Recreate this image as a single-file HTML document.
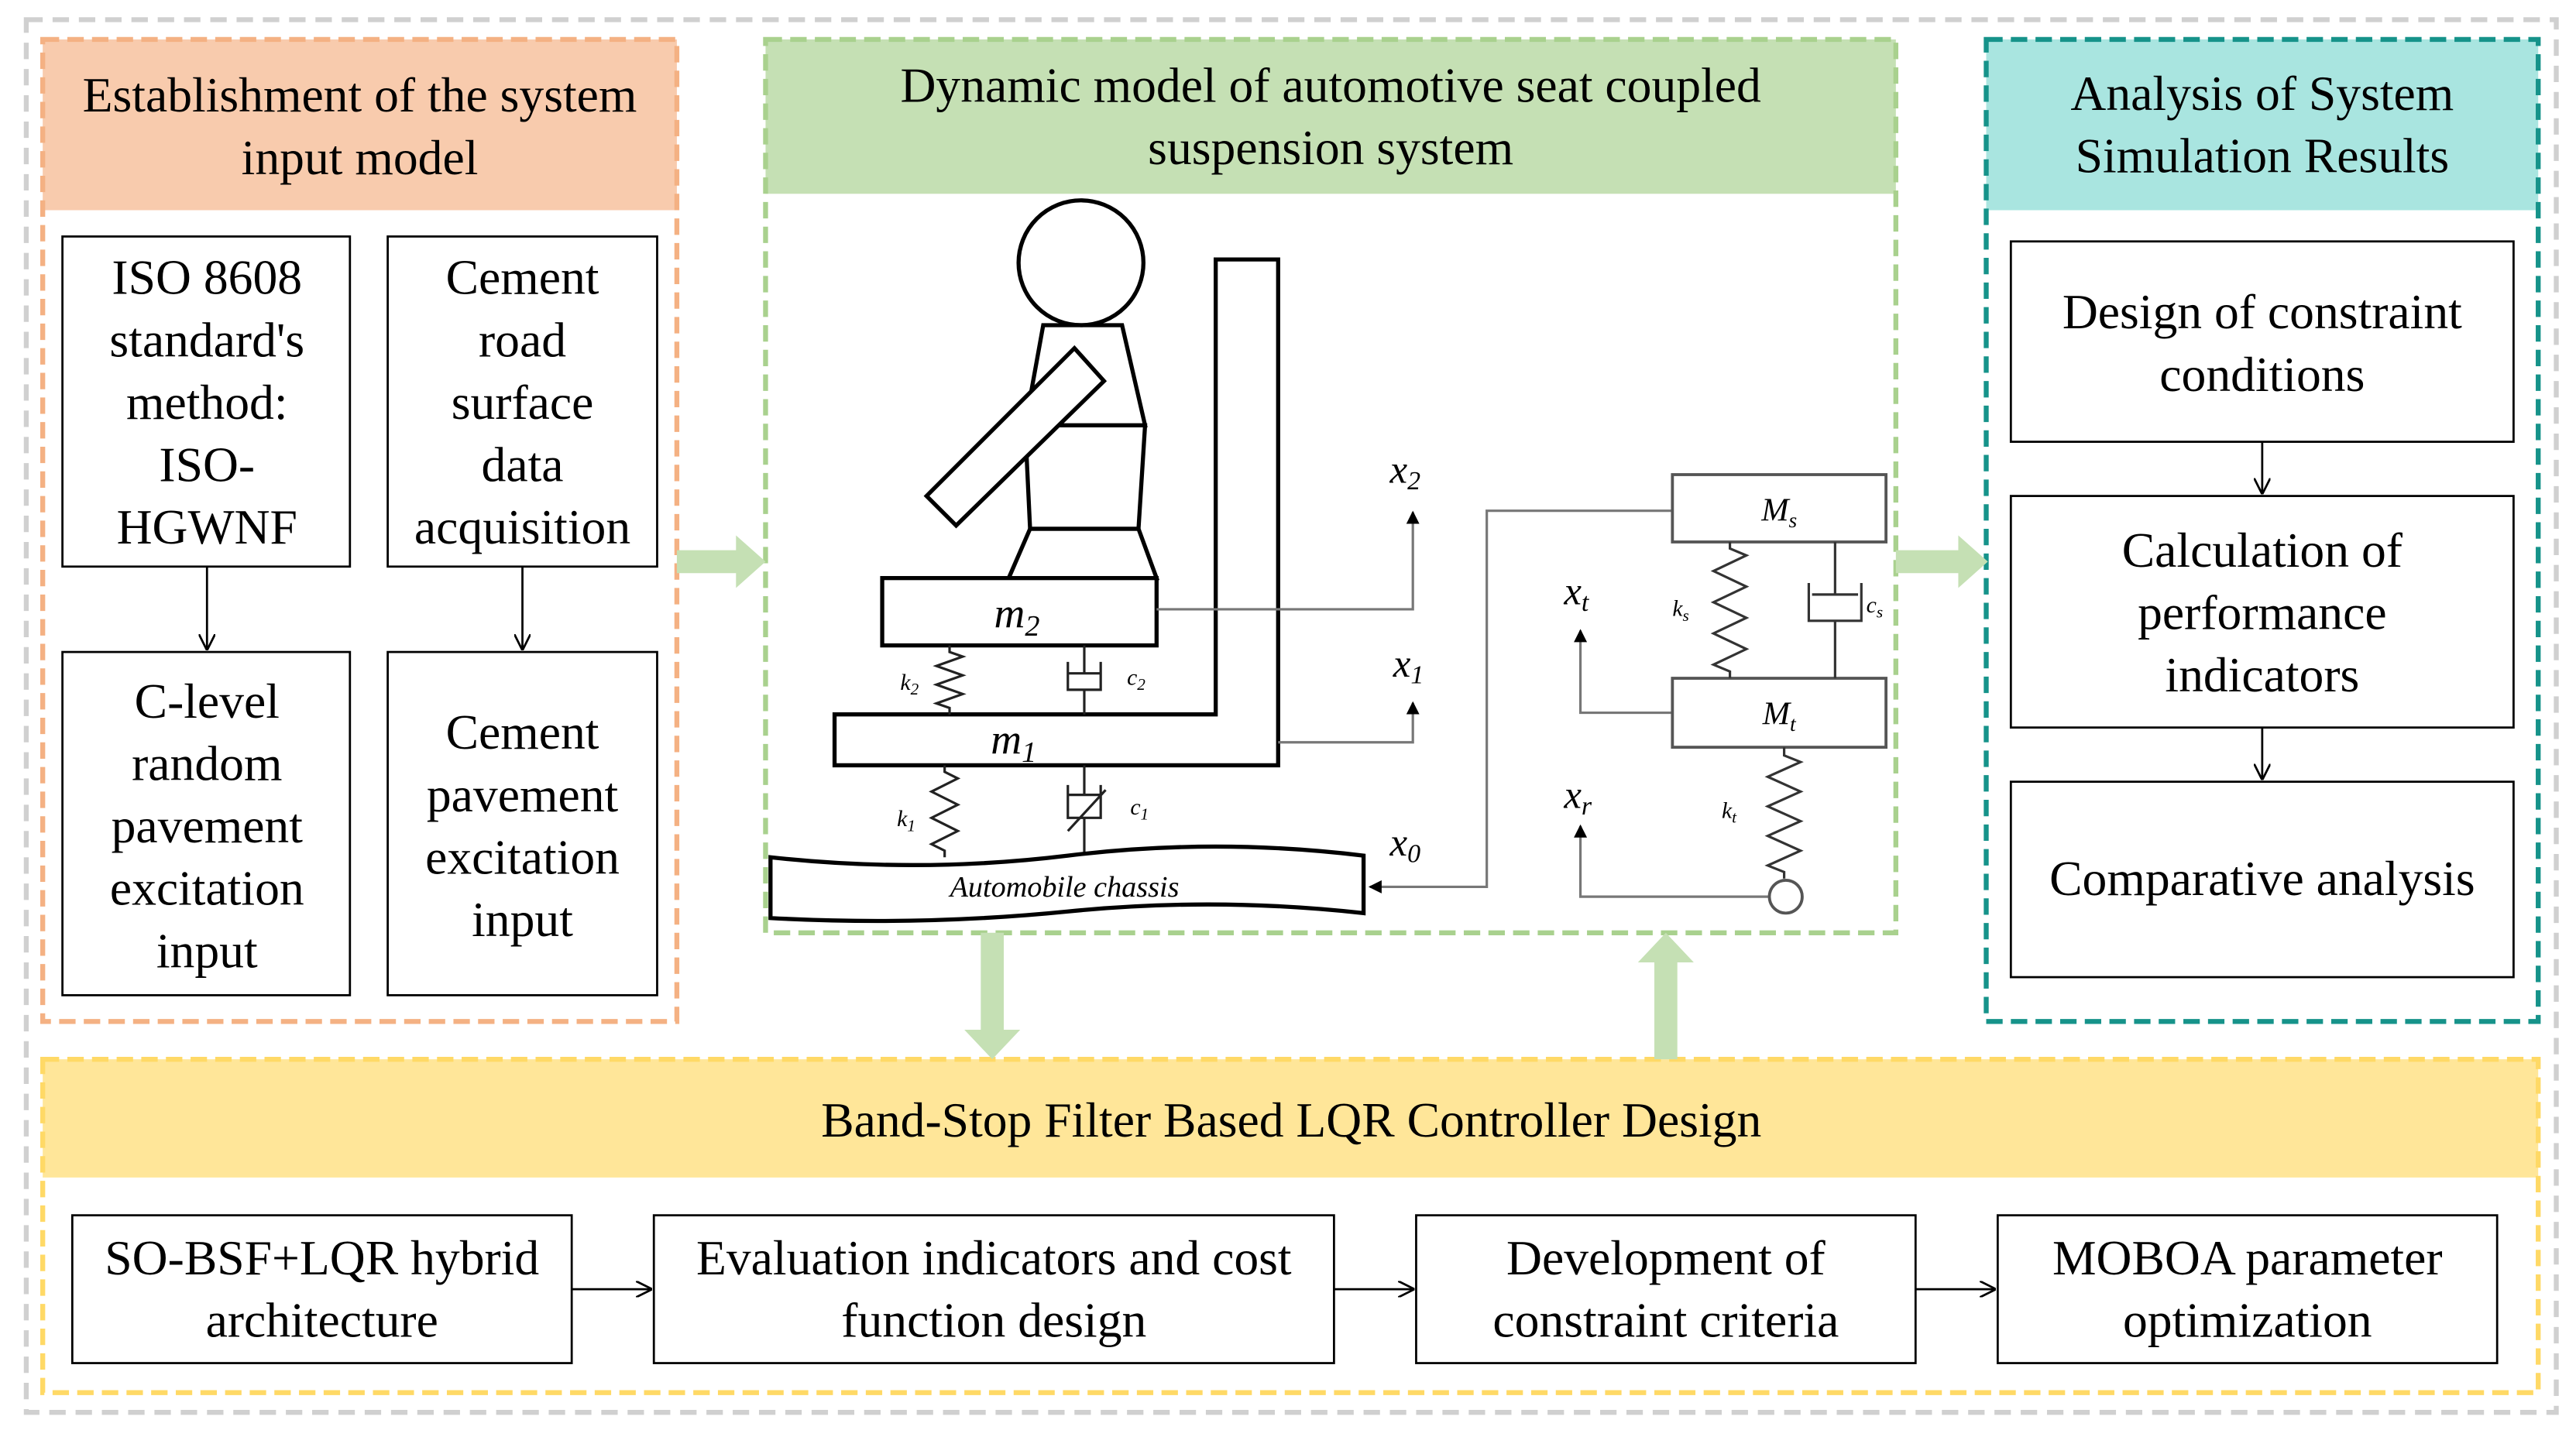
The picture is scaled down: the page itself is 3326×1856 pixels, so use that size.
<!DOCTYPE html>
<html><head><meta charset="utf-8">
<style>
html,body{margin:0;padding:0;background:#fff;}
svg{display:block;font-family:"Liberation Serif","DejaVu Serif",serif;}
svg text{font-family:"Liberation Serif","DejaVu Serif",serif;fill:#000;}
.t{font-size:30px;text-anchor:middle;}
.i{font-style:italic;}
</style></head>
<body>
<svg width="3326" height="1856" viewBox="0 0 1568 875" preserveAspectRatio="none" xmlns="http://www.w3.org/2000/svg" font-family="Liberation Serif, DejaVu Serif, serif">
<defs>
<marker id="ah" markerWidth="8" markerHeight="8" refX="7" refY="4" orient="auto" markerUnits="userSpaceOnUse"><path d="M0,0 L8,4 L0,8 Z" fill="#000"/></marker>
<marker id="as" markerWidth="10" markerHeight="10" refX="9" refY="5" orient="auto" markerUnits="userSpaceOnUse"><path d="M0,0 L10,5 L0,10" fill="none" stroke="#000" stroke-width="1.3"/></marker>
</defs>
<rect width="1568" height="875" fill="#fff"/>
<rect x="16" y="12" width="1540" height="848" fill="none" stroke="#d0d0d0" stroke-width="3" stroke-dasharray="10,6"/>

<rect x="26" y="24" width="386" height="104" fill="#f8cbad"/>
<rect x="26" y="24" width="386" height="598" fill="none" stroke="#f4b183" stroke-width="3" stroke-dasharray="10,5"/>
<text class="t" x="219" y="68">Establishment of the system</text>
<text class="t" x="219" y="106">input model</text>
<g fill="#fff" stroke="#000" stroke-width="1.3">
<rect x="38" y="144" width="175" height="201"/><rect x="236" y="144" width="164" height="201"/>
<rect x="38" y="397" width="175" height="209"/><rect x="236" y="397" width="164" height="209"/>
</g>
<text class="t" x="126" y="179">ISO 8608</text><text class="t" x="126" y="217">standard's</text><text class="t" x="126" y="255">method:</text><text class="t" x="126" y="293">ISO-</text><text class="t" x="126" y="331">HGWNF</text>
<text class="t" x="318" y="179">Cement</text><text class="t" x="318" y="217">road</text><text class="t" x="318" y="255">surface</text><text class="t" x="318" y="293">data</text><text class="t" x="318" y="331">acquisition</text>
<text class="t" x="126" y="437">C-level</text><text class="t" x="126" y="475">random</text><text class="t" x="126" y="513">pavement</text><text class="t" x="126" y="551">excitation</text><text class="t" x="126" y="589">input</text>
<text class="t" x="318" y="456">Cement</text><text class="t" x="318" y="494">pavement</text><text class="t" x="318" y="532">excitation</text><text class="t" x="318" y="570">input</text>
<line x1="126" y1="345" x2="126" y2="395" stroke="#000" stroke-width="1.3" marker-end="url(#as)"/>
<line x1="318" y1="345" x2="318" y2="395" stroke="#000" stroke-width="1.3" marker-end="url(#as)"/>

<rect x="466" y="24" width="688" height="94" fill="#c5e0b4"/>
<rect x="466" y="24" width="688" height="544" fill="none" stroke="#a9d18e" stroke-width="3" stroke-dasharray="10,5"/>
<text class="t" x="810" y="62">Dynamic model of automotive seat coupled</text>
<text class="t" x="810" y="100">suspension system</text>

<rect x="1209" y="24" width="336" height="104" fill="#a9e5e0"/>
<rect x="1209" y="24" width="336" height="598" fill="none" stroke="#16938a" stroke-width="3" stroke-dasharray="10,5"/>
<text class="t" x="1377" y="67">Analysis of System</text>
<text class="t" x="1377" y="105">Simulation Results</text>
<g fill="#fff" stroke="#000" stroke-width="1.3">
<rect x="1224" y="147" width="306" height="122"/><rect x="1224" y="302" width="306" height="141"/><rect x="1224" y="476" width="306" height="119"/>
</g>
<text class="t" x="1377" y="200">Design of constraint</text><text class="t" x="1377" y="238">conditions</text>
<text class="t" x="1377" y="345">Calculation of</text><text class="t" x="1377" y="383">performance</text><text class="t" x="1377" y="421">indicators</text>
<text class="t" x="1377" y="545">Comparative analysis</text>
<line x1="1377" y1="269" x2="1377" y2="300" stroke="#000" stroke-width="1.3" marker-end="url(#as)"/>
<line x1="1377" y1="443" x2="1377" y2="474" stroke="#000" stroke-width="1.3" marker-end="url(#as)"/>

<rect x="26" y="645" width="1519" height="72" fill="#ffe699"/>
<rect x="26" y="645" width="1519" height="203" fill="none" stroke="#ffd966" stroke-width="3" stroke-dasharray="10,5"/>
<text class="t" x="786" y="692">Band-Stop Filter Based LQR Controller Design</text>
<g fill="#fff" stroke="#000" stroke-width="1.3">
<rect x="44" y="740" width="304" height="90"/><rect x="398" y="740" width="414" height="90"/><rect x="862" y="740" width="304" height="90"/><rect x="1216" y="740" width="304" height="90"/>
</g>
<text class="t" x="196" y="776">SO-BSF+LQR hybrid</text><text class="t" x="196" y="814">architecture</text>
<text class="t" x="605" y="776">Evaluation indicators and cost</text><text class="t" x="605" y="814">function design</text>
<text class="t" x="1014" y="776">Development of</text><text class="t" x="1014" y="814">constraint criteria</text>
<text class="t" x="1368" y="776">MOBOA parameter</text><text class="t" x="1368" y="814">optimization</text>
<g stroke="#000" stroke-width="1.3" marker-end="url(#as)">
<line x1="348" y1="785" x2="396" y2="785"/><line x1="812" y1="785" x2="860" y2="785"/><line x1="1166" y1="785" x2="1214" y2="785"/>
</g>

<g fill="#c5e0b4">
<polygon points="412,335 448,335 448,326 466,342 448,358 448,349 412,349"/>
<polygon points="1154,335 1192,335 1192,326 1210,342 1192,358 1192,349 1154,349"/>
<polygon points="597,568 611,568 611,627 621,627 604,645 587,627 597,627"/>
<polygon points="1007,645 1021,645 1021,586 1031,586 1014,568 997,586 1007,586"/>
</g>

<g fill="none" stroke="#000" stroke-width="2.5">
<circle cx="658" cy="160" r="38"/>
<polygon points="635,198 683,198 697,259 624,259"/>
<polygon points="624,259 697,259 693,322 627,322"/>
<polygon points="627,322 693,322 704,352 614,352"/>
<polygon points="564,302 654,212 672,232 582,320" fill="#fff"/>
<polygon points="740,158 778,158 778,466 508,466 508,435 740,435"/>
<rect x="537" y="352" width="167" height="41" fill="#fff"/>
</g>
<text x="619" y="382" class="t i" style="font-size:26px">m<tspan font-size="18" dy="5">2</tspan></text>
<text x="617" y="459" class="t i" style="font-size:26px">m<tspan font-size="18" dy="5">1</tspan></text>
<g fill="none" stroke="#222" stroke-width="1.5">
<path d="M578 393 v4 l8 2.8 l-16 5.7 l16 5.7 l-16 5.7 l16 5.7 l-16 5.7 l8 2.8 v4"/>
<path d="M660 393 v17 M650 410 h20 M650 403 v17 h20 v-17 M660 420 v15"/>
<path d="M575 466 v4 l8 4 l-16 8 l16 8 l-16 8 l16 8 l-16 8 l8 4 v4"/>
<path d="M660 466 v18 M650 484 h20 M650 478 v20 h20 v-20 M660 498 v22 M650 506 L673 481"/>
</g>
<text x="548" y="420" class="i" style="font-size:14px">k<tspan font-size="10" dy="3">2</tspan></text>
<text x="686" y="417" class="i" style="font-size:14px">c<tspan font-size="10" dy="3">2</tspan></text>
<text x="546" y="503" class="i" style="font-size:14px">k<tspan font-size="10" dy="3">1</tspan></text>
<text x="688" y="496" class="i" style="font-size:14px">c<tspan font-size="10" dy="3">1</tspan></text>
<path d="M469 522 Q560 532 650 521 T830 521 L830 556 Q740 546 650 555 T469 559 Z" fill="#fff" stroke="#000" stroke-width="2.5"/>
<text x="648" y="546" class="t i" style="font-size:18px">Automobile chassis</text>
<g fill="none" stroke="#777" stroke-width="1.5">
<path d="M704 371 H860 V312" marker-end="url(#ah)"/>
<path d="M778 452 H860 V428" marker-end="url(#ah)"/>
<path d="M1018 311 H905 V540 H834" marker-end="url(#ah)"/>
<path d="M1018 434 H962 V384" marker-end="url(#ah)"/>
<path d="M1077 546 H962 V503" marker-end="url(#ah)"/>
</g>
<text x="846" y="294" class="i" style="font-size:24px">x<tspan font-size="16" dy="4">2</tspan></text>
<text x="848" y="412" class="i" style="font-size:24px">x<tspan font-size="16" dy="4">1</tspan></text>
<text x="846" y="521" class="i" style="font-size:24px">x<tspan font-size="16" dy="4">0</tspan></text>
<text x="952" y="368" class="i" style="font-size:24px">x<tspan font-size="16" dy="4">t</tspan></text>
<text x="952" y="492" class="i" style="font-size:24px">x<tspan font-size="16" dy="4">r</tspan></text>
<g fill="#fff" stroke="#555" stroke-width="1.8">
<rect x="1018" y="289" width="130" height="41"/><rect x="1018" y="413" width="130" height="42"/>
<circle cx="1087" cy="546" r="10"/>
</g>
<text x="1083" y="317" class="t i" style="font-size:20px">M<tspan font-size="13" dy="4">s</tspan></text>
<text x="1083" y="441" class="t i" style="font-size:20px">M<tspan font-size="13" dy="4">t</tspan></text>
<g fill="none" stroke="#333" stroke-width="1.5">
<path d="M1053 330 v4 l10 4.2 l-20 9.5 l20 9.5 l-20 9.5 l20 9.5 l-20 9.5 l20 9.5 l-20 9.5 l10 4.2 v4"/>
<path d="M1117 330 v32 M1103 362 h28 M1101 355 v23 h32 v-23 M1117 378 v35"/>
<path d="M1086 455 v5 l10 4 l-20 9 l20 9 l-20 9 l20 9 l-20 9 l20 9 l-20 9 l10 4 v4"/>
</g>
<text x="1018" y="375" class="i" style="font-size:14px">k<tspan font-size="10" dy="3">s</tspan></text>
<text x="1136" y="373" class="i" style="font-size:14px">c<tspan font-size="10" dy="3">s</tspan></text>
<text x="1048" y="498" class="i" style="font-size:14px">k<tspan font-size="10" dy="3">t</tspan></text>
</svg>
</body></html>
